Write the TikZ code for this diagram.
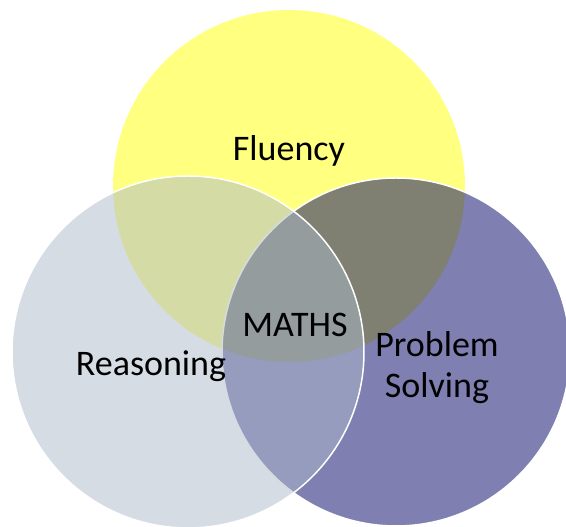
\documentclass[tikz,border=0pt]{standalone}
\usepackage{fontspec}
\setmainfont{Carlito}
\definecolor{fluencyyellow}{RGB}{255,255,128}
\definecolor{problemblue}{RGB}{0,0,102}
\definecolor{reasongrey}{RGB}{171,185,201}
\begin{document}
\begin{tikzpicture}[x=1pt, y=1pt,
  ring/.style={draw=white, line width=1.5pt, fill opacity=0.5},
  label/.style={font=\fontsize{36}{41}\selectfont, inner sep=0pt, anchor=base}]
\useasboundingbox (0,0) rectangle (566,527);
\clip (0,0) rectangle (566,527);

\fill[fluencyyellow] (289,341) circle[radius=176];
\filldraw[ring, fill=problemblue] (396,175) circle[radius=174];
\filldraw[ring, fill=reasongrey] (188,175) circle[radius=176];

\node[label] (fluency) at (289,366) {Fluency};
\node[label] (maths) at (295,190) {MATHS};
\node[label] (reasoning) at (151,151) {Reasoning};
\node[label] (problem) at (437,170) {Problem};
\node[label] (solving) at (437,129) {Solving};
\end{tikzpicture}
\end{document}
